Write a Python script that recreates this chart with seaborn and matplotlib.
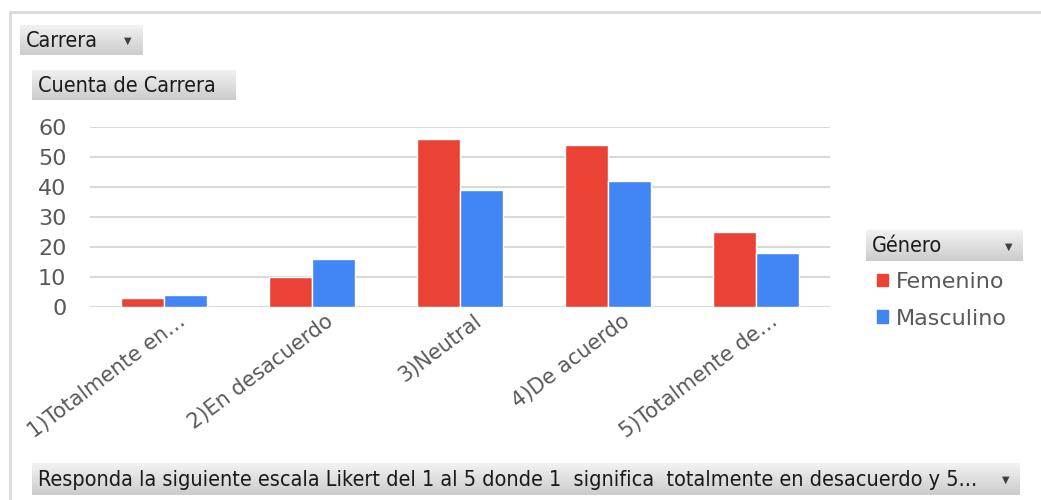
import matplotlib.pyplot as plt
import matplotlib.patches as mpatches
import matplotlib.transforms as mtransforms
import numpy as np
import pandas as pd
import seaborn as sns

CATEGORIES = ['1)Totalmente en…', '2)En desacuerdo', '3)Neutral',
              '4)De acuerdo', '5)Totalmente de…']
FEMENINO = [3, 10, 56, 54, 25]
MASCULINO = [4, 16, 39, 42, 18]
GENEROS = ['Femenino', 'Masculino']
COLORES = ['#EA4335', '#4285F4']
Y_TICKS = [0, 10, 20, 30, 40, 50, 60]

W, H = 1041, 500

df = pd.DataFrame({
    'Respuesta': CATEGORIES * 2,
    'Cuenta': FEMENINO + MASCULINO,
    'Género': [GENEROS[0]] * len(CATEGORIES) + [GENEROS[1]] * len(CATEGORIES),
})

sns.set_style('white')
plt.rcParams['font.family'] = ['DejaVu Sans']

fig = plt.figure(figsize=(W / 100, H / 100), dpi=100)


def px(x0, y0, x1, y1):
    """rectangle en pixels (origine en haut à gauche) -> coordonnées figure"""
    return [x0 / W, 1 - y1 / H, (x1 - x0) / W, (y1 - y0) / H]


def bouton(x0, y0, x1, y1, texte, fleche=False, size=15.5):
    b = fig.add_axes(px(x0, y0, x1, y1))
    grad = np.linspace(0.95, 0.80, 50).reshape(-1, 1)
    b.imshow(np.dstack([grad, grad, grad]), aspect='auto', extent=[0, 1, 0, 1])
    b.set_xlim(0, 1)
    b.set_ylim(0, 1)
    b.axis('off')
    b.text(6 / (x1 - x0), 0.47, texte, ha='left', va='center', fontsize=size,
           family='DejaVu Sans', stretch='condensed', color='#1a1a1a')
    if fleche:
        b.text(1 - 14 / (x1 - x0), 0.47, '▼', ha='center', va='center',
               fontsize=7, color='#404040', family='DejaVu Sans')


# cadre du graphique
fig.patches.append(mpatches.Rectangle((10 / W, -0.1), 1.1, 1.1 - 12 / H,
                                      transform=fig.transFigure, fill=False,
                                      edgecolor='#D9D9D9', lw=2))

ax = fig.add_axes(px(90, 127, 830, 307))
sns.barplot(data=df, x='Respuesta', y='Cuenta', hue='Género',
            palette=COLORES, width=0.58, ax=ax, legend=False,
            saturation=1)
ax.set_ylim(0, 60)
ax.set_yticks(Y_TICKS)
ax.set_xlim(-0.5, 4.5)
ax.yaxis.grid(True, color='#D9D9D9', lw=1.5)
ax.set_axisbelow(True)
for s in ax.spines.values():
    s.set_visible(False)
ax.set_xlabel('')
ax.set_ylabel('')
ax.tick_params(axis='y', labelsize=16, labelcolor='#595959', length=0, pad=17)
ax.tick_params(axis='x', labelsize=15, labelcolor='#595959', length=0, pad=3)
ax.set_xticks(range(len(CATEGORIES)))
ax.set_xticklabels(CATEGORIES, rotation=37, ha='right', rotation_mode='anchor')
decal = mtransforms.ScaledTranslation(13 / 100, 0, fig.dpi_scale_trans)
for lbl in ax.get_xticklabels():
    lbl.set_transform(lbl.get_transform() + decal)

# boutons de champ
bouton(20, 25, 142, 55, 'Carrera', fleche=True)
bouton(32, 70, 236, 100, 'Cuenta de Carrera')
bouton(866, 230, 1023, 261, 'Género', fleche=True)
bouton(32, 463, 1020, 495,
       'Responda la siguiente escala Likert del 1 al 5 donde 1  significa  '
       'totalmente en desacuerdo y 5...', fleche=True)

# légende
handles = [mpatches.Patch(color=c, label=g) for g, c in zip(GENEROS, COLORES)]
leg = fig.legend(handles=handles, loc='upper left',
                 bbox_to_anchor=(857 / W, 1 - 252 / H), frameon=False,
                 fontsize=16, handlelength=0.5, handleheight=0.5,
                 handletextpad=0.35, labelspacing=0.75)
for t in leg.get_texts():
    t.set_color('#595959')

fig.savefig('out.png', dpi=100)
